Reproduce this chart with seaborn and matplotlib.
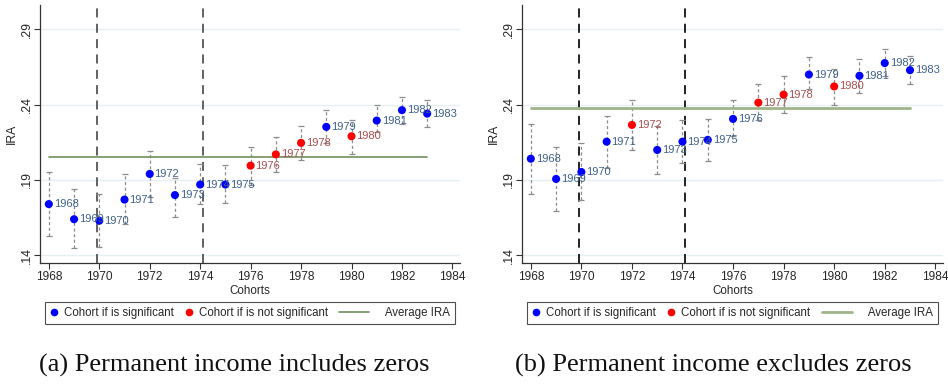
import matplotlib
matplotlib.use("Agg")
import matplotlib.pyplot as plt
from matplotlib.lines import Line2D
from matplotlib.legend_handler import HandlerLine2D
import numpy as np
import pandas as pd
import seaborn as sns

sns.set_theme(style="white")
plt.rcParams["font.family"] = ["Liberation Sans", "DejaVu Sans"]

# Cohort years
cohorts = list(range(1968, 1984))

# Panel (a): permanent income includes zeros
ira_a = [0.174, 0.164, 0.163, 0.177, 0.194, 0.180, 0.187, 0.187,
         0.1995, 0.207, 0.2146, 0.2252, 0.219, 0.2294, 0.2363, 0.234]
lo_a = [0.153, 0.145, 0.1457, 0.161, 0.179, 0.1654, 0.174, 0.1745,
        0.187, 0.195, 0.203, 0.2144, 0.2075, 0.2219, 0.227, 0.2252]
hi_a = [0.195, 0.184, 0.1805, 0.1938, 0.2095, 0.1911, 0.2004, 0.200,
        0.212, 0.2186, 0.2259, 0.2363, 0.2296, 0.240, 0.2453, 0.2431]
sig_a = [1, 1, 1, 1, 1, 1, 1, 1, 0, 0, 0, 1, 0, 1, 1, 1]
avg_a = 0.2055

# Panel (b): permanent income excludes zeros
ira_b = [0.2041, 0.1907, 0.1953, 0.2154, 0.2265, 0.2099, 0.2154, 0.2166,
         0.2305, 0.2413, 0.2466, 0.2599, 0.252, 0.2591, 0.2675, 0.2628]
lo_b = [0.1807, 0.1694, 0.1765, 0.1978, 0.2101, 0.1942, 0.2011, 0.2026,
        0.2192, 0.2298, 0.2343, 0.2502, 0.240, 0.2478, 0.2591, 0.2537]
hi_b = [0.2272, 0.2121, 0.2144, 0.2327, 0.2433, 0.2259, 0.2296, 0.2305,
        0.2433, 0.2535, 0.2588, 0.2717, 0.2635, 0.2701, 0.2768, 0.2719]
sig_b = [1, 1, 1, 1, 0, 1, 1, 1, 1, 0, 0, 1, 0, 1, 1, 1]
avg_b = 0.238

yticks = [0.14, 0.19, 0.24, 0.29]
ytick_labels = [".14", ".19", ".24", ".29"]
xticks = list(range(1968, 1985, 2))
reform_years = [1969.9, 1974.1]

captions = ["(a) Permanent income includes zeros",
            "(b) Permanent income excludes zeros"]
caption_x = [234, 713]

PT_BLUE = "#0000ff"
PT_RED = "#ff0000"
LBL_BLUE = "#3f6189"
LBL_RED = "#a4504e"

LEG_FS = 8.3
LINE_KEY_PX = 30  # length of the average-line key, in pixels


class LongLineHandler(HandlerLine2D):
    """Legend key for the average line: a longer stroke that runs on
    into the padding in front of its label."""

    def get_xdata(self, legend, xdescent, ydescent, width, height, fontsize):
        x0 = -xdescent
        x1 = x0 + LINE_KEY_PX * 72 / 100
        xs = np.array([x0, x1])
        return xs, xs


W, H = 948, 385
fig = plt.figure(figsize=(W / 100, H / 100), dpi=100)
ax_a = fig.add_axes([0.0422, 0.317, 0.443, 0.670])
ax_b = fig.add_axes([0.5506, 0.317, 0.444, 0.670])

panels = [
    (ax_a, ira_a, lo_a, hi_a, sig_a, avg_a, "#718f5e", 1.2, "#555555"),
    (ax_b, ira_b, lo_b, hi_b, sig_b, avg_b, "#9fb48a", 2.0, "#111111"),
]

for i, (ax, ira, lo, hi, sig, avg, avg_col, avg_lw, vcol) in enumerate(panels):
    df = pd.DataFrame({"cohort": cohorts, "ira": ira, "lo": lo, "hi": hi,
                       "sig": ["yes" if s else "no" for s in sig]})

    # light horizontal grid
    for yt in yticks:
        ax.axhline(yt, color="#e6eff1", lw=1.0, zorder=0)

    # confidence intervals
    eb = ax.errorbar(df["cohort"], df["ira"],
                     yerr=[df["ira"] - df["lo"], df["hi"] - df["ira"]],
                     fmt="none", ecolor="#8c8c8c", elinewidth=0.9,
                     capsize=2.0, capthick=0.9, zorder=2)
    eb[2][0].set_linestyle((0, (2.5, 2.0)))

    # average line
    avg_df = pd.DataFrame({"cohort": [cohorts[0], cohorts[-1]], "ira": [avg, avg]})
    sns.lineplot(data=avg_df, x="cohort", y="ira", ax=ax, color=avg_col,
                 lw=avg_lw, zorder=3, legend=False)

    # reform years
    for xv in reform_years:
        ax.axvline(xv, color=vcol, lw=1.3, ls=(0, (5, 3.5)), zorder=1)

    # cohort estimates
    sns.scatterplot(data=df, x="cohort", y="ira", hue="sig",
                    palette={"yes": PT_BLUE, "no": PT_RED}, s=34,
                    edgecolor="none", ax=ax, zorder=4, legend=False)

    for c, v, s in zip(cohorts, ira, sig):
        ax.annotate(str(c), (c, v), xytext=(3.5, 0), textcoords="offset points",
                    ha="left", va="center", fontsize=8,
                    color=LBL_BLUE if s else LBL_RED, zorder=5)

    ax.set_xlim(1967.65, 1984.3)
    ax.set_ylim(0.135, 0.306)
    ax.set_xticks(xticks)
    ax.set_xticklabels([str(x) for x in xticks], fontsize=8.6)
    ax.set_yticks(yticks)
    ax.set_yticklabels(ytick_labels, fontsize=8.8, rotation=90, va="center")
    ax.set_xlabel("Cohorts", fontsize=8.4, labelpad=1)
    ax.set_ylabel("IRA", fontsize=8.8, labelpad=2)
    ax.tick_params(axis="both", which="both", direction="out", length=4,
                   width=0.8, color="#333333", pad=1)
    ax.tick_params(axis="x", bottom=True, pad=2)
    ax.tick_params(axis="y", left=True)
    sns.despine(ax=ax)
    for sp in ["left", "bottom"]:
        ax.spines[sp].set_color("#333333")
        ax.spines[sp].set_linewidth(0.9)

    avg_handle = Line2D([], [], color=avg_col, lw=avg_lw)
    handles = [
        Line2D([], [], marker="o", ls="none", color=PT_BLUE, markersize=4.5),
        Line2D([], [], marker="o", ls="none", color=PT_RED, markersize=4.5),
        avg_handle,
    ]
    labels = ["Cohort if is significant", "Cohort if is not significant",
              " " * 10 + "Average IRA"]
    leg = ax.legend(handles, labels, ncol=3, loc="center",
                    bbox_to_anchor=(0.5, -0.195), fontsize=LEG_FS,
                    frameon=True, fancybox=False, edgecolor="#222222",
                    handlelength=0.7, handletextpad=0.5, columnspacing=1.0,
                    borderpad=0.45, borderaxespad=0,
                    handler_map={avg_handle: LongLineHandler()})
    leg.get_frame().set_linewidth(0.8)

    fig.text(caption_x[i] / W, 1 - 365 / H, captions[i],
             ha="center", va="center", fontsize=19,
             family=["Liberation Serif", "DejaVu Serif"], color="#111111")

fig.savefig("out.png", dpi=100)
